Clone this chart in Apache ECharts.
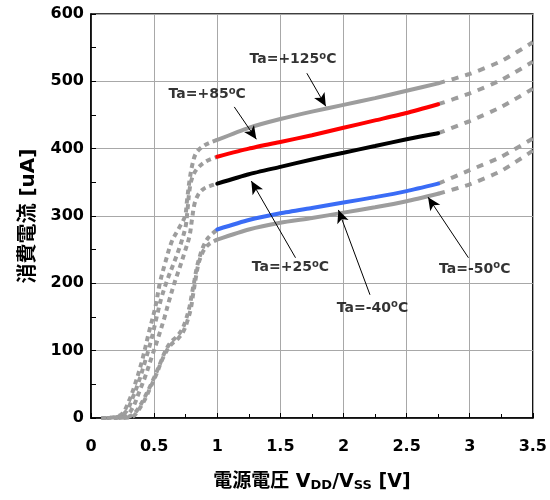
<!DOCTYPE html>
<html>
<head>
<meta charset="utf-8">
<script src="https://cdn.jsdelivr.net/npm/echarts@6/dist/echarts.min.js"></script>
<style>
  html, body { margin: 0; padding: 0; background: #fff; }
  #chart { width: 550px; height: 500px; }
</style>
</head>
<body>
<div id="chart"></div>
<script>
// Supply current vs. supply voltage, five ambient temperatures.
// Each curve: dashed low-voltage part, solid 1.0–2.75 V part, dashed high-voltage part.

const xTickLabels = ['0', '0.5', '1', '1.5', '2', '2.5', '3', '3.5'];
const yTickLabels = ['0', '100', '200', '300', '400', '500', '600'];

const tempNames = ['+125', '+85', '+25', '-40', '-50'];

// [V, uA]
const low125 = [[0.08,0],[0.18,1],[0.25,7],[0.30,25],[0.34,45],[0.40,82],[0.46,128],[0.51,165],[0.545,200],[0.59,232],[0.64,262],[0.70,283],[0.745,300],[0.76,322],[0.78,352],[0.805,378],[0.835,394],[0.90,405],[1.0,413]];
const mid125 = [[1.0,413],[1.25,431],[1.5,444],[1.75,455],[2.0,465],[2.25,475],[2.5,486],[2.75,497]];
const high125 = [[2.75,497],[3.0,511],[3.25,530],[3.5,558]];

const low85 = [[0.12,0],[0.22,2],[0.28,10],[0.33,30],[0.38,55],[0.43,85],[0.48,118],[0.52,150],[0.56,180],[0.61,208],[0.66,232],[0.71,258],[0.75,285],[0.765,310],[0.78,338],[0.80,356],[0.84,370],[0.91,381],[1.0,388]];
const mid85 = [[1.0,388],[1.25,400],[1.5,410],[1.75,420],[2.0,431],[2.25,442],[2.5,453],[2.75,466]];
const high85 = [[2.75,466],[3.0,482],[3.25,502],[3.5,529]];

const low25 = [[0.18,0],[0.27,2],[0.33,15],[0.38,38],[0.43,62],[0.48,90],[0.53,118],[0.58,148],[0.62,175],[0.66,200],[0.70,222],[0.74,245],[0.78,270],[0.80,295],[0.82,318],[0.85,332],[0.89,340],[0.95,345],[1.0,348]];
const mid25 = [[1.0,348],[1.25,362],[1.5,373],[1.75,384],[2.0,394],[2.25,404],[2.5,414],[2.75,423]];
const high25 = [[2.75,423],[3.0,441],[3.25,462],[3.5,489]];

const lowM40 = [[0.22,0],[0.30,2],[0.35,8],[0.40,22],[0.45,40],[0.50,60],[0.55,82],[0.59,100],[0.63,112],[0.68,121],[0.72,131],[0.75,145],[0.78,165],[0.80,185],[0.82,205],[0.84,225],[0.865,242],[0.89,255],[0.93,268],[1.0,280]];
const midM40 = [[1.0,280],[1.25,294],[1.5,304],[1.75,312],[2.0,320],[2.25,328],[2.5,337],[2.75,348]];
const highM40 = [[2.75,348],[3.0,368],[3.25,388],[3.5,415]];

const lowM50 = [[0.26,0],[0.33,2],[0.37,10],[0.42,25],[0.47,45],[0.52,66],[0.56,85],[0.60,100],[0.64,110],[0.69,118],[0.73,128],[0.76,142],[0.79,162],[0.81,185],[0.83,208],[0.85,228],[0.875,242],[0.90,251],[0.94,259],[1.0,265]];
const midM50 = [[1.0,265],[1.25,280],[1.5,290],[1.75,297],[2.0,305],[2.25,313],[2.5,322],[2.75,333]];
const highM50 = [[2.75,333],[3.0,347],[3.25,367],[3.5,397]];

// annotation placement (data coordinates): label centre, arrow start, arrow tip
const labelAt = [[1.60,532],[0.92,480],[1.58,223],[2.23,163],[3.04,221]];
const arrowFrom = [[1.71,512],[1.135,462],[1.62,238],[2.21,183],[2.99,238]];
const arrowTo = [[1.86,463],[1.31,414],[1.27,352],[1.96,309],[2.67,328]];

const GRAY = '#9d9d9d';
const curves = [
  { low: low125, mid: mid125, high: high125, color: GRAY },
  { low: low85,  mid: mid85,  high: high85,  color: '#ff0000' },
  { low: low25,  mid: mid25,  high: high25,  color: '#000000' },
  { low: lowM40, mid: midM40, high: highM40, color: '#3a6cf6' },
  { low: lowM50, mid: midM50, high: highM50, color: GRAY }
];

const LATIN = "'DejaVu Sans', 'Noto Sans CJK JP', sans-serif";

const series = [];
curves.forEach(function (c) {
  series.push({
    type: 'line', data: c.low, showSymbol: false, smooth: 0.35, z: 3,
    lineStyle: { color: GRAY, width: 4, type: [5, 4], cap: 'butt' }
  });
  series.push({
    type: 'line', data: c.high, showSymbol: false, smooth: 0.2, z: 3,
    lineStyle: { color: GRAY, width: 4, type: [7, 7], cap: 'butt' }
  });
  series.push({
    type: 'line', data: c.mid, showSymbol: false, smooth: 0.2, z: 4,
    lineStyle: { color: c.color, width: 4, cap: 'round' }
  });
});

// arrows
series.push({
  type: 'line', data: [], z: 6,
  markLine: {
    silent: true,
    symbol: ['none', 'arrow'],
    symbolSize: [9, 13],
    label: { show: false },
    lineStyle: { color: '#000', width: 1, type: 'solid' },
    data: arrowFrom.map(function (p, i) {
      return [{ coord: p }, { coord: arrowTo[i] }];
    })
  }
});

// temperature labels
series.push({
  type: 'scatter', symbolSize: 0, z: 7, silent: true,
  data: labelAt.map(function (p, i) { return { value: p, name: tempNames[i] }; }),
  label: {
    show: true, position: 'inside', fontSize: 14, fontWeight: 'bold', color: '#000',
    formatter: function (p) { return '{t|Ta=' + p.name + '}{o|o}{t|C}'; },
    rich: {
      t: { fontFamily: LATIN, fontWeight: 'bold', fontSize: 14, color: '#000', lineHeight: 17 },
      o: { fontFamily: LATIN, fontWeight: 'bold', fontSize: 10, color: '#000', verticalAlign: 'top', lineHeight: 11 }
    }
  }
});

const chart = echarts.init(document.getElementById('chart'), null, { renderer: 'canvas' });
chart.setOption({
  animation: false,
  backgroundColor: '#fff',
  grid: { left: 91, right: 15, top: 14, bottom: 82, show: true, borderColor: '#000', borderWidth: 1.5, backgroundColor: 'transparent' },
  xAxis: {
    type: 'value', min: 0, max: 3.5, interval: 0.5,
    name: '電源電圧 V{s|DD}/V{s|SS} [V]',
    nameLocation: 'middle', nameGap: 55,
    nameTextStyle: {
      fontFamily: LATIN, fontWeight: 'bold', fontSize: 19, color: '#000',
      rich: { s: { fontFamily: LATIN, fontWeight: 'bold', fontSize: 13, color: '#000', verticalAlign: 'bottom' } }
    },
    axisLine: { lineStyle: { color: '#000', width: 1.5 } },
    axisTick: { inside: true, length: 5, lineStyle: { color: '#000' } },
    minorTick: { show: true, splitNumber: 2, length: 4, lineStyle: { color: '#000' } },
    splitLine: { show: true, lineStyle: { color: '#a8a8a8', width: 1 } },
    axisLabel: {
      margin: 21, fontFamily: LATIN, fontWeight: 'bold', fontSize: 16, color: '#000',
      formatter: function (v) { return xTickLabels[Math.round(v / 0.5)]; }
    }
  },
  yAxis: {
    type: 'value', min: 0, max: 600, interval: 100,
    name: '消費電流 [uA]',
    nameLocation: 'middle', nameGap: 52, nameRotate: 90,
    nameTextStyle: { fontFamily: LATIN, fontWeight: 'bold', fontSize: 20, color: '#000' },
    axisLine: { show: true, lineStyle: { color: '#000', width: 1.5 } },
    axisTick: { inside: true, length: 5, lineStyle: { color: '#000' } },
    minorTick: { show: true, splitNumber: 2, length: 5, lineStyle: { color: '#000' } },
    splitLine: { show: true, lineStyle: { color: '#a8a8a8', width: 1 } },
    axisLabel: {
      margin: 7, fontFamily: LATIN, fontWeight: 'bold', fontSize: 16, color: '#000',
      formatter: function (v) { return yTickLabels[Math.round(v / 100)]; }
    }
  },
  series: series
});
</script>
</body>
</html>
